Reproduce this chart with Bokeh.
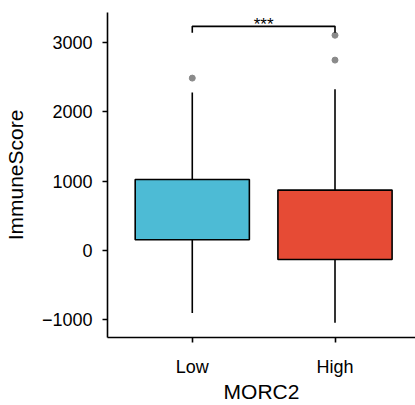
from bokeh.plotting import figure
from bokeh.models import Range1d, FixedTicker, ColumnDataSource
from bokeh.core.properties import value
from bokeh.embed import file_html
from bokeh.resources import INLINE

categories = ["Low", "High"]
xpos = [1, 2]
q1 = [153, -131]
median = [637, 372]
q3 = [1024, 870]
whisk_low = [-904, -1043]
whisk_high = [2277, 2327]
colors = ["#4DBBD5", "#E64B35"]
out_x = [1, 2, 2]
out_y = [2486, 3105, 2746]
sig_label = "***"
sig_y = 3233
sig_drop = 3142

p = figure(width=415, height=405, output_backend="svg", toolbar_location=None,
           x_range=Range1d(0.406, 2.564), y_range=Range1d(-1257, 3433),
           min_border_left=105, min_border_right=0, min_border_top=12, min_border_bottom=58)
p.outline_line_color = None
p.xgrid.visible = False
p.ygrid.visible = False
p.background_fill_color = "white"

src = ColumnDataSource(dict(x=xpos, q1=q1, med=median, q3=q3, lo=whisk_low, hi=whisk_high, c=colors))
p.segment(x0="x", y0="lo", x1="x", y1="q1", source=src, line_color="black", line_width=1.6)
p.segment(x0="x", y0="q3", x1="x", y1="hi", source=src, line_color="black", line_width=1.6)
p.vbar(x="x", bottom="q1", top="q3", width=0.8, source=src, fill_color="c",
       line_color="black", line_width=1.6)
p.rect(x="x", y="med", width=0.8, height=0, source=src, line_color="black", line_width=4)
p.scatter(out_x, out_y, size=6, color="#8a8a8a")

p.line([1, 1, 2, 2], [sig_drop, sig_y, sig_y, sig_drop], line_color="black", line_width=1.6)
p.text([1.5], [sig_y], text=[sig_label], text_align="center", text_baseline="alphabetic",
       y_offset=-2,
       text_font=value("Liberation Sans"), text_font_size="17px", text_color="black")

for ax in (p.xaxis, p.yaxis):
    ax.axis_line_width = 1.6
    ax.axis_line_color = "black"
    ax.major_tick_line_width = 1.6
    ax.major_tick_line_color = "black"
    ax.major_tick_out = 5
    ax.major_tick_in = 0
    ax.minor_tick_line_color = None
    ax.major_label_text_font = "Liberation Sans"
    ax.major_label_text_font_size = "18px"
    ax.major_label_text_color = "black"
    ax.axis_label_text_font = "Liberation Sans"
    ax.axis_label_text_font_style = "normal"
    ax.axis_label_text_font_size = "21px"
    ax.axis_label_text_color = "black"

p.xaxis.ticker = FixedTicker(ticks=xpos)
p.xaxis.major_label_overrides = {x: c for x, c in zip(xpos, categories)}
p.xaxis.axis_label = "MORC2"
p.xaxis.major_label_standoff = 14
p.xaxis.axis_label_standoff = 0
p.yaxis.ticker = FixedTicker(ticks=[-1000, 0, 1000, 2000, 3000])
p.yaxis.axis_label = "ImmuneScore"
p.yaxis.major_label_standoff = 10
p.yaxis.axis_label_standoff = 12

open("out.html", "w").write(file_html(p, INLINE))
